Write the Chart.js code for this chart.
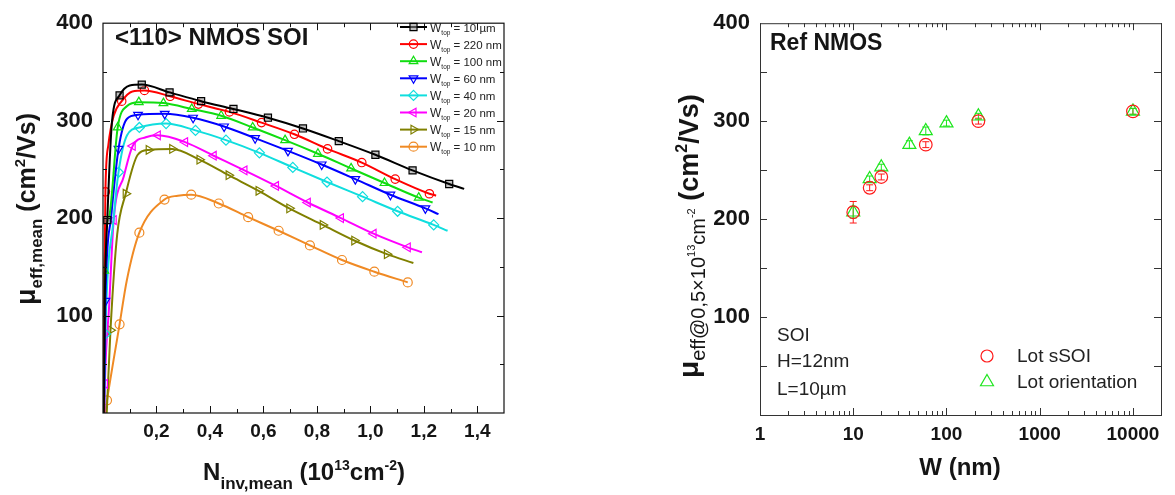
<!DOCTYPE html>
<html>
<head>
<meta charset="utf-8">
<script src="https://cdn.jsdelivr.net/npm/chart.js@4.4.1/dist/chart.umd.min.js"></script>
<style>
    html, body { margin: 0; padding: 0; background: #fff; }
    #wrap { position: relative; width: 1175px; height: 495px; overflow: hidden; }
    #leftChart { position: absolute; left: 0; top: 0; }
    #rightChart { position: absolute; left: 660px; top: 0; }
</style>
</head>
<body>
<div id="wrap">
    <canvas id="leftChart" width="560" height="495"></canvas>
    <canvas id="rightChart" width="515" height="495"></canvas>
</div>
<script>
// ---- 左圖: mu_eff,mean vs N_inv,mean (每條曲線: 標記點 + 只在曲線上的點) ----
const w10umMarks = [[0.016,198],[0.062,326],[0.145,337],[0.249,329],[0.367,320],[0.488,312],[0.617,303],[0.748,292],[0.882,279],[1.019,265],[1.158,249],[1.295,235]];
const w10umCurve = [[0.003,0],[0.007,120],[0.034,300],[0.100,336],[1.351,230]];
const w220Marks = [[0.009,227],[0.070,320],[0.155,331],[0.251,325],[0.357,317],[0.473,309],[0.593,298],[0.716,286],[0.840,271],[0.968,257],[1.093,240],[1.221,225]];
const w220Curve = [[0.003,0],[0.005,120],[0.020,275],[0.040,305],[0.110,330],[1.246,223]];
const w100Marks = [[0.005,146],[0.055,293],[0.134,319],[0.226,318],[0.332,312],[0.442,305],[0.560,293],[0.681,280],[0.804,266],[0.928,251],[1.053,236],[1.181,221]];
const w100Curve = [[0.003,0],[0.022,200],[0.090,315],[1.233,216]];
const w60Marks = [[0.009,115],[0.058,271],[0.131,306],[0.231,307],[0.337,303],[0.453,294],[0.569,282],[0.692,269],[0.818,255],[0.944,240],[1.075,224],[1.206,210]];
const w60Curve = [[0.004,0],[0.030,200],[0.090,302],[1.255,204]];
const w40Marks = [[0.009,81],[0.058,247],[0.136,293],[0.236,297],[0.346,290],[0.460,280],[0.585,267],[0.710,252],[0.838,237],[0.971,222],[1.102,207],[1.237,193]];
const w40Curve = [[0.004,0],[0.040,200],[0.090,285],[1.289,187]];
const w20Marks = [[0.007,30],[0.040,198],[0.111,274],[0.205,285],[0.307,278],[0.414,264],[0.529,249],[0.647,233],[0.766,216],[0.890,200],[1.012,184],[1.140,170]];
const w20Curve = [[0.005,0],[0.023,110],[0.078,243],[0.160,283],[1.193,165]];
const w15Marks = [[0.028,85],[0.085,225],[0.171,270],[0.259,271],[0.361,260],[0.470,244],[0.582,228],[0.697,210],[0.822,193],[0.940,177],[1.062,163]];
const w15Curve = [[0.014,0],[0.053,183],[0.130,265],[1.161,154]];
const w10Marks = [[0.015,13],[0.062,91],[0.136,185],[0.230,219],[0.330,224],[0.433,215],[0.543,201],[0.657,187],[0.774,172],[0.894,157],[1.015,145],[1.140,134]];
const w10Curve = [[0.008,0],[0.089,136],[0.280,223]];

const seriesLabels = ['10 µm', '220 nm', '100 nm', '60 nm', '40 nm', '20 nm', '15 nm', '10 nm'];
const nTicks = [0.2, 0.4, 0.6, 0.8, 1.0, 1.2, 1.4];
const muTicks = [100, 200, 300, 400];

// ---- 右圖: mu_eff @ 0.5e13 vs W ----
const sSoiW = [10, 15, 20, 60, 220, 10000];
const sSoiMu = [207, 232, 243, 276, 300, 310];
const sSoiErr = [11, 3, 3, 3, 3, 3];
const orientW = [10, 15, 20, 40, 60, 100, 220, 10000];
const orientMu = [207, 241, 253, 276, 290, 298, 305, 310];
const orientErr = [6, 3, 3, 4, 4, 3, 3, 3];
const wTicks = [1, 10, 100, 1000, 10000];

// 樣式
const FONT = "'Liberation Sans', Arial, sans-serif";
const TXT = '#151515';
const seriesColors = ['#000000', '#ff0000', '#10dd10', '#0000ff', '#10dede', '#ff00ff', '#808000', '#f08a24'];
const seriesStyles = ['rect', 'circle', 'triangle', 'triangle', 'rectRot', 'triangle', 'triangle', 'circle'];
const seriesRot = [0, 0, 0, 180, 0, 270, 90, 0];
const seriesRadius = [5, 4.2, 5, 5, 5, 5, 5, 4.5];
const seriesFill = ['rgba(140,140,140,0.55)', 'rgba(0,0,0,0)', 'rgba(0,0,0,0)', 'rgba(0,0,0,0)', 'rgba(0,0,0,0)', 'rgba(0,0,0,0)', 'rgba(0,0,0,0)', 'rgba(0,0,0,0)'];

Chart.defaults.font.family = FONT;
Chart.defaults.color = TXT;

const toXY = pts => pts.map(p => ({ x: p[0], y: p[1] }));

// 依序畫出多段文字 (上下標)
function drawParts(ctx, parts, x, y) {
    let cx = x;
    parts.forEach(p => {
        ctx.font = p.font;
        ctx.fillText(p.t, cx, y + (p.dy || 0));
        cx += ctx.measureText(p.t).width;
    });
    return cx - x;
}
function partsWidth(ctx, parts) {
    let w = 0;
    parts.forEach(p => { ctx.font = p.font; w += ctx.measureText(p.t).width; });
    return w;
}
function seg(ctx, x1, y1, x2, y2) {
    ctx.beginPath(); ctx.moveTo(x1, y1); ctx.lineTo(x2, y2); ctx.stroke();
}

// ---------------- 左圖 ----------------
const allMarks = [w10umMarks, w220Marks, w100Marks, w60Marks, w40Marks, w20Marks, w15Marks, w10Marks];
const allCurves = [w10umCurve, w220Curve, w100Curve, w60Curve, w40Curve, w20Curve, w15Curve, w10Curve];
const leftSets = [];
allMarks.forEach((m, i) => {
    const curve = m.concat(allCurves[i]).sort((a, b) => a[0] - b[0]);
    leftSets.push({
        data: toXY(curve),
        borderColor: seriesColors[i],
        borderWidth: 2,
        pointRadius: 0,
        cubicInterpolationMode: 'monotone',
        fill: false
    });
    leftSets.push({
        data: toXY(m),
        showLine: false,
        pointStyle: seriesStyles[i],
        rotation: seriesRot[i],
        pointRadius: seriesRadius[i],
        pointBorderWidth: 1.2,
        borderColor: seriesColors[i],
        backgroundColor: seriesFill[i]
    });
});

const leftDeco = {
    id: 'leftDeco',
    afterDraw(chart) {
        const { ctx, chartArea: a, scales: { x, y } } = chart;
        ctx.save();
        // 外框與刻度
        ctx.strokeStyle = '#111';
        ctx.lineWidth = 1.2;
        ctx.strokeRect(a.left, a.top, a.right - a.left, a.bottom - a.top);
        ctx.lineWidth = 1;
        for (let i = 1; i < 15; i++) {
            const px = Math.round(x.getPixelForValue(i / 10)) + 0.5;
            const len = i % 2 === 0 ? 7 : 4;
            seg(ctx, px, a.bottom, px, a.bottom - len);
            seg(ctx, px, a.top, px, a.top + len);
        }
        for (let v = 50; v < 400; v += 50) {
            const py = Math.round(y.getPixelForValue(v)) + 0.5;
            const len = v % 100 === 0 ? 7 : 4;
            seg(ctx, a.left, py, a.left + len, py);
            seg(ctx, a.right, py, a.right - len, py);
        }

        ctx.fillStyle = TXT;
        ctx.textBaseline = 'alphabetic';
        ctx.textAlign = 'left';
        ctx.font = 'bold 24px ' + FONT;
        ctx.fillText('<110> NMOS SOI', 115, 45);

        // 圖例
        seriesLabels.forEach((lab, i) => {
            const ly = 27 + i * 17.1;
            ctx.strokeStyle = seriesColors[i];
            ctx.lineWidth = 2;
            seg(ctx, 400, ly, 427, ly);
            ctx.lineWidth = 1.2;
            ctx.fillStyle = seriesFill[i];
            Chart.helpers.drawPoint(ctx, {
                pointStyle: seriesStyles[i], rotation: seriesRot[i],
                radius: seriesRadius[i], borderWidth: 1.2
            }, 413.5, ly);
            ctx.fillStyle = '#222';
            drawParts(ctx, [
                { t: 'W', font: '12px ' + FONT },
                { t: 'top', font: '6.5px ' + FONT, dy: 3 },
                { t: ' = ' + lab, font: '11.5px ' + FONT }
            ], 430, ly + 4.5);
        });

        // x 軸標題
        ctx.fillStyle = TXT;
        const xt = [
            { t: 'N', font: 'bold 24px ' + FONT },
            { t: 'inv,mean', font: 'bold 17px ' + FONT, dy: 9 },
            { t: ' (10', font: 'bold 24px ' + FONT },
            { t: '13', font: 'bold 14px ' + FONT, dy: -10 },
            { t: 'cm', font: 'bold 24px ' + FONT },
            { t: '-2', font: 'bold 14px ' + FONT, dy: -10 },
            { t: ')', font: 'bold 24px ' + FONT }
        ];
        drawParts(ctx, xt, 304 - partsWidth(ctx, xt) / 2, 480);

        // y 軸標題 (旋轉)
        ctx.translate(35, 305);
        ctx.rotate(-Math.PI / 2);
        drawParts(ctx, [
            { t: 'μ', font: 'bold 27px ' + FONT },
            { t: 'eff,mean', font: 'bold 17px ' + FONT, dy: 7 },
            { t: ' (cm', font: 'bold 25px ' + FONT },
            { t: '2', font: 'bold 15px ' + FONT, dy: -10 },
            { t: '/Vs)', font: 'bold 25px ' + FONT }
        ], 0, 0);
        ctx.restore();
    }
};

new Chart(document.getElementById('leftChart'), {
    type: 'line',
    data: { datasets: leftSets },
    options: {
        responsive: false,
        animation: false,
        layout: { padding: { left: 0, top: 13, right: 56, bottom: 0 } },
        plugins: { legend: { display: false }, tooltip: { enabled: false } },
        scales: {
            x: {
                type: 'linear', min: 0, max: 1.5,
                afterFit: s => { s.height = 82; },
                afterBuildTicks: s => { s.ticks = nTicks.map(v => ({ value: v })); },
                grid: { display: false, drawTicks: false },
                border: { display: false },
                ticks: {
                    autoSkip: false, maxRotation: 0, padding: 7,
                    font: { size: 19, weight: 'bold' }, color: TXT,
                    callback: v => v.toFixed(1).replace('.', ',')
                }
            },
            y: {
                type: 'linear', min: 0, max: 400,
                afterFit: s => { s.width = 103; },
                afterBuildTicks: s => { s.ticks = muTicks.map(v => ({ value: v })); },
                grid: { display: false, drawTicks: false },
                border: { display: false },
                ticks: { padding: 10, font: { size: 22, weight: 'bold' }, color: TXT }
            }
        }
    },
    plugins: [leftDeco]
});

// ---------------- 右圖 ----------------
const RED = '#ff1a1a';
const GREEN = '#1ee61e';

const rightDeco = {
    id: 'rightDeco',
    beforeDatasetsDraw(chart) {
        // 誤差棒
        const { ctx, scales: { x, y } } = chart;
        ctx.save();
        ctx.lineWidth = 1;
        const bars = (ws, mus, errs, col) => {
            ctx.strokeStyle = col;
            ws.forEach((w, i) => {
                const px = x.getPixelForValue(w);
                const y1 = y.getPixelForValue(mus[i] - errs[i]);
                const y2 = y.getPixelForValue(mus[i] + errs[i]);
                seg(ctx, px, y1, px, y2);
                seg(ctx, px - 3.5, y1, px + 3.5, y1);
                seg(ctx, px - 3.5, y2, px + 3.5, y2);
            });
        };
        bars(sSoiW, sSoiMu, sSoiErr, RED);
        bars(orientW, orientMu, orientErr, GREEN);
        ctx.restore();
    },
    afterDraw(chart) {
        const { ctx, chartArea: a, scales: { x, y } } = chart;
        ctx.save();
        ctx.strokeStyle = '#333';
        ctx.lineWidth = 1;
        ctx.strokeRect(a.left + 0.5, a.top + 0.5, a.right - a.left, a.bottom - a.top);
        for (let d = 1; d <= 10000; d *= 10) {
            for (let k = 1; k < 10; k++) {
                const v = d * k;
                if (v > 20000) break;
                const px = Math.round(x.getPixelForValue(v)) + 0.5;
                const len = k === 1 ? 7 : 4;
                seg(ctx, px, a.bottom, px, a.bottom - len);
                seg(ctx, px, a.top, px, a.top + len);
            }
        }
        for (let v = 50; v < 400; v += 50) {
            const py = Math.round(y.getPixelForValue(v)) + 0.5;
            const len = 7;
            seg(ctx, a.left, py, a.left + len, py);
            seg(ctx, a.right, py, a.right - len, py);
        }

        ctx.fillStyle = TXT;
        ctx.textAlign = 'left';
        ctx.textBaseline = 'alphabetic';
        ctx.font = 'bold 23px ' + FONT;
        ctx.fillText('Ref NMOS', 110, 50);

        ctx.fillStyle = '#222';
        ctx.font = '19px ' + FONT;
        ctx.fillText('SOI', 117, 341);
        ctx.fillText('H=12nm', 117, 367);
        ctx.fillText('L=10µm', 117, 395);

        // 圖例
        ctx.lineWidth = 1.2;
        ctx.fillStyle = 'rgba(0,0,0,0)';
        ctx.strokeStyle = RED;
        Chart.helpers.drawPoint(ctx, { pointStyle: 'circle', radius: 6, borderWidth: 1.2 }, 327, 356);
        ctx.strokeStyle = GREEN;
        Chart.helpers.drawPoint(ctx, { pointStyle: 'triangle', radius: 7.5, borderWidth: 1.2 }, 327, 382);
        ctx.fillStyle = '#222';
        ctx.font = '19px ' + FONT;
        ctx.fillText('Lot sSOI', 357, 362);
        ctx.fillText('Lot orientation', 357, 388);

        // x 軸標題
        ctx.fillStyle = TXT;
        ctx.font = 'bold 24px ' + FONT;
        ctx.textAlign = 'center';
        ctx.fillText('W (nm)', 300, 475);
        ctx.textAlign = 'left';

        // y 軸標題 (旋轉)
        ctx.translate(38, 378);
        ctx.rotate(-Math.PI / 2);
        drawParts(ctx, [
            { t: 'μ', font: 'bold 28px ' + FONT },
            { t: 'eff@0,5×10', font: '20px ' + FONT, dy: 7 },
            { t: '13', font: '11px ' + FONT, dy: -3 },
            { t: 'cm', font: '20px ' + FONT, dy: 7 },
            { t: '-2', font: '11px ' + FONT, dy: -3 },
            { t: ' (cm', font: 'bold 27px ' + FONT },
            { t: '2', font: 'bold 16px ' + FONT, dy: -11 },
            { t: '/Vs)', font: 'bold 27px ' + FONT }
        ], 0, 0);
        ctx.restore();
    }
};

new Chart(document.getElementById('rightChart'), {
    type: 'line',
    data: {
        datasets: [
            {
                data: sSoiW.map((w, i) => ({ x: w, y: sSoiMu[i] })),
                showLine: false,
                pointStyle: 'circle',
                pointRadius: 6.3,
                pointBorderWidth: 1.2,
                borderColor: RED,
                backgroundColor: 'rgba(0,0,0,0)'
            },
            {
                data: orientW.map((w, i) => ({ x: w, y: orientMu[i] })),
                showLine: false,
                pointStyle: 'triangle',
                pointRadius: 7.5,
                pointBorderWidth: 1.2,
                borderColor: GREEN,
                backgroundColor: 'rgba(0,0,0,0)'
            }
        ]
    },
    options: {
        responsive: false,
        animation: false,
        layout: { padding: { left: 0, top: 15, right: 14, bottom: 0 } },
        plugins: { legend: { display: false }, tooltip: { enabled: false } },
        scales: {
            x: {
                type: 'logarithmic', min: 1, max: 20000,
                afterFit: s => { s.height = 80; },
                afterBuildTicks: s => { s.ticks = wTicks.map(v => ({ value: v })); },
                grid: { display: false, drawTicks: false },
                border: { display: false },
                ticks: {
                    autoSkip: false, maxRotation: 0, padding: 8,
                    font: { size: 19, weight: 'bold' }, color: TXT,
                    callback: v => String(v)
                }
            },
            y: {
                type: 'linear', min: 0, max: 400,
                afterFit: s => { s.width = 100; },
                afterBuildTicks: s => { s.ticks = muTicks.map(v => ({ value: v })); },
                grid: { display: false, drawTicks: false },
                border: { display: false },
                ticks: { padding: 10, font: { size: 22, weight: 'bold' }, color: TXT }
            }
        }
    },
    plugins: [rightDeco]
});
</script>
</body>
</html>
